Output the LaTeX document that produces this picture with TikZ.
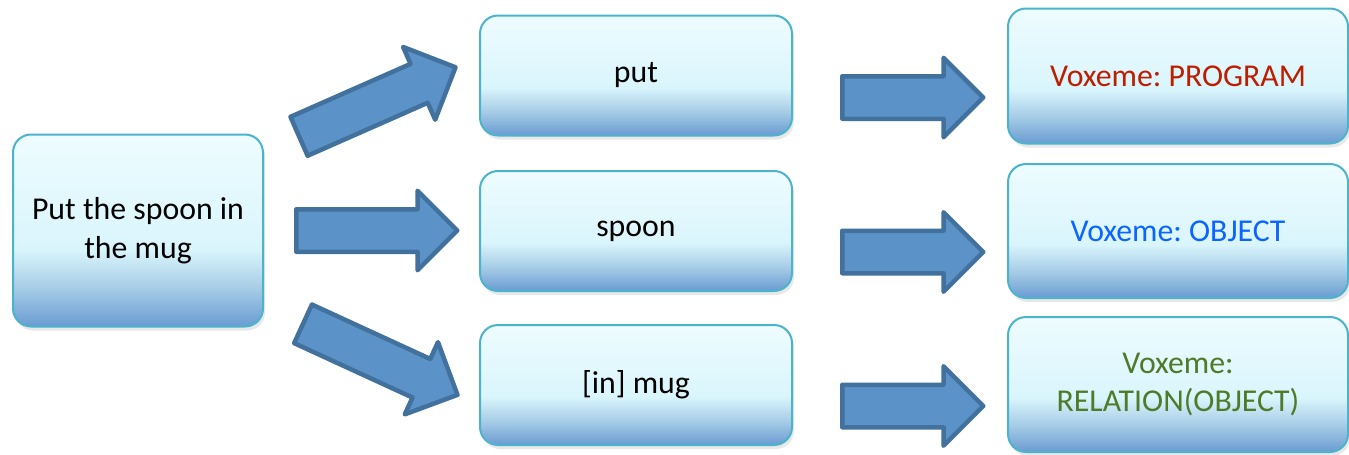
\documentclass[tikz,border=0pt]{standalone}
\usepackage{fontspec}
\setmainfont{Carlito}
\frenchspacing
\usetikzlibrary{shapes.arrows,shadows}
\definecolor{bbot}{HTML}{6A9CD2}
\definecolor{bmid}{HTML}{A6CCE6}
\definecolor{blight}{HTML}{D9F5FC}
\definecolor{btop}{HTML}{EEFCFF}
\definecolor{bborder}{HTML}{4BB4CC}
\definecolor{afill}{HTML}{5B93C9}
\definecolor{aborder}{HTML}{41719C}
\definecolor{tred}{HTML}{BE1E00}
\definecolor{tblue}{HTML}{0A64FF}
\definecolor{tgreen}{HTML}{4F7A28}
\pgfdeclareverticalshading{boxshade}{100bp}{color(0bp)=(bbot); color(25bp)=(bbot); color(35bp)=(bmid); color(45bp)=(blight); color(75bp)=(btop); color(100bp)=(btop)}
\tikzset{
  box/.style={rectangle, rounded corners=18pt, draw=bborder, line width=2pt,
    shading=boxshade, inner sep=0pt, align=center,
    font=\fontsize{31.8}{38.5}\selectfont,
    drop shadow={opacity=0.18, shadow xshift=2pt, shadow yshift=-4pt}},
  barrow/.style={single arrow, draw=aborder, fill=afill, line width=4.5pt,
    line join=round, inner xsep=0pt, inner ysep=19pt, minimum width=75pt,
    single arrow head extend=18.5pt, single arrow tip angle=90, anchor=tail}
}
\begin{document}
\begin{tikzpicture}[x=1pt,y=-1pt]
\useasboundingbox (0,0) rectangle (1349,455);
% left box
\node[box, minimum width=250pt, minimum height=192pt] (src) at (138,230.5) {Put the spoon in\\the mug};
% middle boxes
\node[box, minimum width=312pt, minimum height=120pt] (put) at (636,75.5) {put};
\node[box, minimum width=312pt, minimum height=120pt] (spoon) at (636,231) {spoon};
\node[box, minimum width=312pt, minimum height=120pt] (mug) at (636,385) {[in] mug};
% right boxes
\node[box, minimum width=340pt, minimum height=135pt, text=tred] (prog) at (1178,76) {Voxeme: PROGRAM};
\node[box, minimum width=340pt, minimum height=134pt, text=tblue] (obj) at (1178,231) {Voxeme: OBJECT};
\node[box, minimum width=340pt, minimum height=135pt, text=tgreen] (rel) at (1178,384.5) {Voxeme:\\RELATION(OBJECT)};
% left arrows
\node[barrow, minimum height=171pt, rotate=23.8] (a1) at (297,137.2) {};
\node[barrow, minimum height=161pt] (a2) at (294,230.5) {};
\node[barrow, minimum height=170pt, rotate=-24.7] (a3) at (301,322.9) {};
% right arrows
\node[barrow, minimum height=141pt] (b1) at (840,97.5) {};
\node[barrow, minimum height=141pt] (b2) at (840,252) {};
\node[barrow, minimum height=141pt] (b3) at (840,406) {};
\end{tikzpicture}
\end{document}
